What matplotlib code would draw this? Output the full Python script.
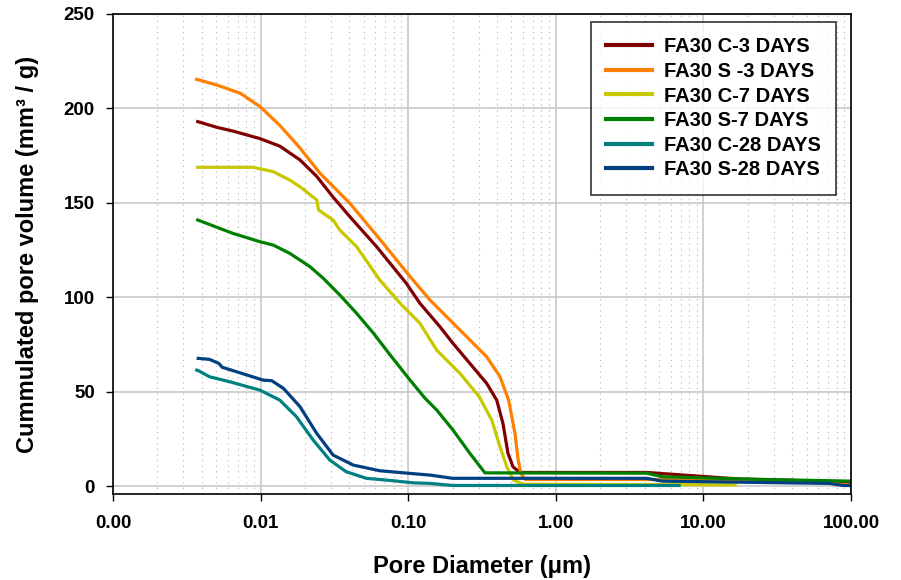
import matplotlib
matplotlib.use("Agg")
import matplotlib.pyplot as plt
from matplotlib.ticker import LogLocator, NullFormatter

plt.rcParams['font.family'] = ['Liberation Sans', 'DejaVu Sans']
plt.rcParams['font.weight'] = 'bold'

# Pore diameter (um) / cumulated pore volume (mm3/g)
c3_x = [0.00375, 0.00504, 0.0065, 0.0099, 0.0135, 0.0185, 0.024, 0.031, 0.0403, 0.0612,
        0.097, 0.12, 0.164, 0.201, 0.34, 0.398, 0.439, 0.474, 0.513, 0.572, 4.13, 17.7, 40.0, 100.0]
c3_y = [193, 190, 188, 184, 180, 172.7, 164, 153, 142.6, 126.7,
        107.4, 96.8, 84.4, 75.6, 54.4, 45.5, 33, 17.4, 10.2, 7.2, 7.2, 3.7, 3.0, 2.0]

s3_x = [0.00369, 0.00504, 0.0073, 0.0099, 0.0135, 0.0185, 0.0253, 0.0403, 0.0678, 0.103,
        0.1406, 0.236, 0.34, 0.419, 0.479, 0.529, 0.556, 0.58, 0.62, 4.13, 60.0, 98.4]
s3_y = [215.4, 212.4, 208, 201, 191, 179, 165.6, 149.7, 128.5, 110.9,
        98.5, 80.9, 68.5, 57.9, 45.5, 27.9, 13.8, 6.7, 3.5, 3.5, 2.0, 0.5]

c7_x = [0.00375, 0.0089, 0.0122, 0.0158, 0.0185, 0.024, 0.0247, 0.031, 0.0344, 0.0448,
        0.0642, 0.0882, 0.12, 0.156, 0.224, 0.303, 0.368, 0.419, 0.466, 0.516, 0.6, 16.4]
c7_y = [168.8, 168.8, 166.5, 162, 158.5, 151.5, 146.2, 140.9, 135.6, 126.7,
        109.1, 96.8, 86.2, 72, 59.7, 47.3, 35, 20.8, 10.2, 3.2, 1.0, 0.6]

s7_x = [0.00375, 0.0065, 0.0099, 0.0122, 0.0158, 0.0216, 0.0266, 0.0344, 0.0447, 0.0582,
        0.0755, 0.103, 0.13, 0.156, 0.201, 0.262, 0.331, 4.13, 5.3, 19.6, 100.0]
s7_y = [140.9, 133.8, 129.4, 127.6, 123.2, 116.2, 110, 101.2, 91.5, 80.9,
        69.4, 56.1, 46.5, 40.3, 29.7, 17.3, 7.0, 6.8, 4.9, 3.7, 2.6]

c28_x = [0.00369, 0.0038, 0.0045, 0.0062, 0.0099, 0.0135, 0.0175, 0.0227, 0.0294, 0.038,
         0.052, 0.0795, 0.108, 0.141, 0.2, 6.84]
c28_y = [61.4, 61.1, 57.9, 55.2, 50.8, 45.5, 36.7, 24.4, 13.8, 7.6,
         4.1, 2.8, 1.7, 1.4, 0.3, 0.3]

s28_x = [0.00378, 0.0045, 0.0052, 0.0055, 0.0081, 0.0104, 0.0119, 0.0143, 0.0185, 0.024,
         0.031, 0.0425, 0.0642, 0.103, 0.141, 0.2, 4.13, 5.3, 71.6, 88.3, 98.4]
s28_y = [67.6, 67.1, 65, 62.9, 58.8, 56.1, 55.8, 51.7, 42, 27.9,
         16.4, 11.1, 8.1, 6.7, 5.8, 4.1, 4.1, 2.6, 1.4, 0.3, 0.3]

labels = ["FA30 C-3 DAYS", "FA30 S -3 DAYS", "FA30 C-7 DAYS",
          "FA30 S-7 DAYS", "FA30 C-28 DAYS", "FA30 S-28 DAYS"]
colors = ["#800000", "#FF8000", "#C8C800", "#008000", "#008080", "#004080"]

x_ticks = [0.001, 0.01, 0.1, 1, 10, 100]
x_ticklabels = ["0.00", "0.01", "0.10", "1.00", "10.00", "100.00"]
y_ticks = [0, 50, 100, 150, 200, 250]

series = [(c3_x, c3_y), (s3_x, s3_y), (c7_x, c7_y),
          (s7_x, s7_y), (c28_x, c28_y), (s28_x, s28_y)]

fig = plt.figure(figsize=(9.01, 5.8), dpi=100)
ax = fig.add_axes([0.1254, 0.1483, 0.8191, 0.8276])

for (xs, ys), lab, col in zip(series, labels, colors):
    ax.plot(xs, ys, color=col, lw=2.3, label=lab, solid_joinstyle='round')

ax.set_xscale('log')
ax.set_xlim(0.001, 100)
ax.set_ylim(-4.2, 250)
ax.set_xticks(x_ticks)
ax.set_xticklabels(x_ticklabels)
ax.xaxis.set_minor_locator(LogLocator(base=10, subs=range(2, 10)))
ax.xaxis.set_minor_formatter(NullFormatter())
ax.set_yticks(y_ticks)

ax.grid(which='major', color='#C8C8C8', lw=1.2, ls='-')
ax.grid(which='minor', axis='x', color='#B0B0B0', lw=0.8, ls=(0, (1, 4)))
ax.set_axisbelow(True)

ax.tick_params(axis='both', which='major', labelsize=13.5, direction='out', length=5, width=1)
ax.tick_params(axis='x', which='minor', length=0)
ax.tick_params(axis='x', pad=10)
ax.tick_params(axis='y', pad=8)
for sp in ax.spines.values():
    sp.set_linewidth(1.2)
    sp.set_color('black')

ax.set_xlabel("Pore Diameter (μm)", fontsize=17, fontweight='bold', labelpad=17)
ax.set_ylabel("Cummulated pore volume (mm³ / g)", fontsize=17, fontweight='bold', labelpad=18)

leg = ax.legend(loc='upper right', bbox_to_anchor=(0.9797, 0.983), borderaxespad=0,
                fontsize=14.5, frameon=True, fancybox=False, edgecolor='black',
                handlelength=2.3, labelspacing=0.28, borderpad=0.75, handletextpad=0.6)
leg.get_frame().set_linewidth(1.2)
for line in leg.get_lines():
    line.set_linewidth(3)
for t in leg.get_texts():
    t.set_fontweight('bold')

fig.savefig("out.png", dpi=100)
